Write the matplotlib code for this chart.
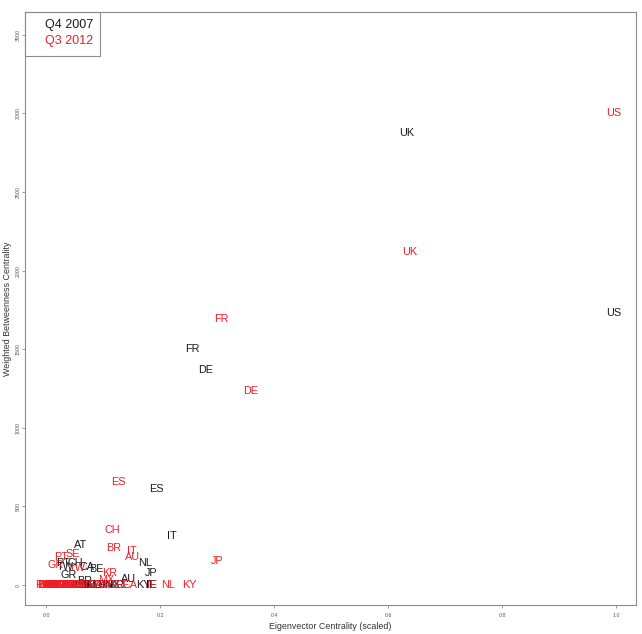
import matplotlib
matplotlib.use("Agg")
from matplotlib import pyplot as plt
from matplotlib.patches import Rectangle

plt.rcParams["font.family"] = ["Liberation Sans", "DejaVu Sans"]

# Q4 2007 (black)
codes_2007 = ["UK", "US", "FR", "DE", "ES", "IT", "AT", "NL", "JP", "BE", "CA",
              "PT", "CH", "TW", "GR", "BR", "AU", "KY", "IE",
              "RU", "DK", "SG", "NO", "LU", "FI", "IN", "MX", "KR", "CN", "SE"]
eig_2007 = [0.632, 0.996, 0.256, 0.279, 0.193, 0.221, 0.060, 0.174, 0.184, 0.089, 0.072,
            0.030, 0.052, 0.034, 0.040, 0.067, 0.144, 0.170, 0.184,
            0.062, 0.070, 0.078, 0.085, 0.092, 0.100, 0.108, 0.116, 0.124, 0.058, 0.066]
betw_2007 = [2873, 1729, 1500, 1367, 610, 312, 254, 140, 76, 102, 114,
             140, 140, 115, 64, 25, 38, 0, 0,
             0, 0, 0, 0, 0, 0, 0, 0, 0, 0, 0]

# Q3 2012 (red)
codes_2012 = ["US", "UK", "FR", "DE", "ES", "CH", "BR", "IT", "AU", "JP", "PT", "SE",
              "GR", "TW", "KR", "MX", "NL", "KY", "IE", "CA", "BE", "AT",
              "RU", "DK", "SG", "NO", "LU", "FI", "IN", "CN", "HK", "ZA", "PL", "CZ",
              "HU", "IL", "TR", "AR", "CL", "CO", "PE", "MY", "TH", "ID", "PH", "NZ",
              "SA", "AE", "EG", "VE", "BM", "PA", "CY", "MT", "IS", "SK", "SI", "EE"]
eig_2012 = [0.996, 0.637, 0.307, 0.358, 0.126, 0.116, 0.118, 0.151, 0.151, 0.300, 0.026, 0.046,
            0.016, 0.054, 0.112, 0.105, 0.214, 0.251, 0.186, 0.147, 0.120, 0.098,
            -0.005, -0.003, -0.001, 0.001, 0.003, 0.005, 0.007, 0.009, 0.011, 0.013, 0.015, 0.017,
            0.019, 0.021, 0.023, 0.025, 0.027, 0.029, 0.031, 0.033, 0.035, 0.037, 0.039, 0.041,
            0.043, 0.045, 0.048, 0.051, 0.054, 0.058, 0.062, 0.070, 0.078, 0.086, 0.104, 0.133]
betw_2012 = [3000, 2117, 1691, 1233, 655, 350, 235, 216, 178, 152, 178, 197,
             127, 108, 76, 32, 0, 0, 0, 0, 0, 0,
             0, 0, 0, 0, 0, 0, 0, 0, 0, 0, 0, 0,
             0, 0, 0, 0, 0, 0, 0, 0, 0, 0, 0, 0,
             0, 0, 0, 0, 0, 0, 0, 0, 0, 0, 0, 0]

black = "#1a1a1a"
red = "#ee1c25"
grey = "#8c8c8c"

fig = plt.figure(figsize=(6.42, 6.34), dpi=100)
ax = fig.add_axes([0.039, 0.0457, 0.952, 0.935])

for code, x, y in zip(codes_2007, eig_2007, betw_2007):
    ax.text(x, y, code, color=black, fontsize=7.8, ha="center", va="center")
for code, x, y in zip(codes_2012, eig_2012, betw_2012):
    ax.text(x, y, code, color=red, fontsize=7.8, ha="center", va="center")

ax.set_xlim(-0.037, 1.035)
ax.set_ylim(-127, 3643)
ax.set_xticks([0.0, 0.2, 0.4, 0.6, 0.8, 1.0])
ax.set_xticklabels(["0.0", "0.2", "0.4", "0.6", "0.8", "1.0"])
ax.set_yticks([0, 500, 1000, 1500, 2000, 2500, 3000, 3500])
ax.set_yticklabels(["0", "500", "1000", "1500", "2000", "2500", "3000", "3500"],
                   rotation=90, va="center")
ax.tick_params(labelsize=3.8, colors="#555555", length=2.5, width=0.6, color=grey)
ax.tick_params(axis="x", pad=3)
ax.tick_params(axis="y", pad=0.8)
for s in ax.spines.values():
    s.set_color(grey)
    s.set_linewidth(0.8)

ax.set_xlabel("Eigenvector Centrality (scaled)", fontsize=6.4, color="#333333")
ax.set_ylabel("Weighted Betweenness Centrality", fontsize=6.4, color="#333333")
ax.xaxis.set_label_coords(0.5, -0.028)
ax.yaxis.set_label_coords(-0.022, 0.5)

# legend box, top left
ax.add_patch(Rectangle((0, 0.927), 0.123, 0.073, transform=ax.transAxes, fill=False,
                       edgecolor=grey, linewidth=0.8, clip_on=False))
ax.text(0.111, 0.978, "Q4 2007", transform=ax.transAxes, color=black, fontsize=9,
        ha="right", va="center")
ax.text(0.111, 0.951, "Q3 2012", transform=ax.transAxes, color=red, fontsize=9,
        ha="right", va="center")

fig.savefig("out.png", dpi=100)
